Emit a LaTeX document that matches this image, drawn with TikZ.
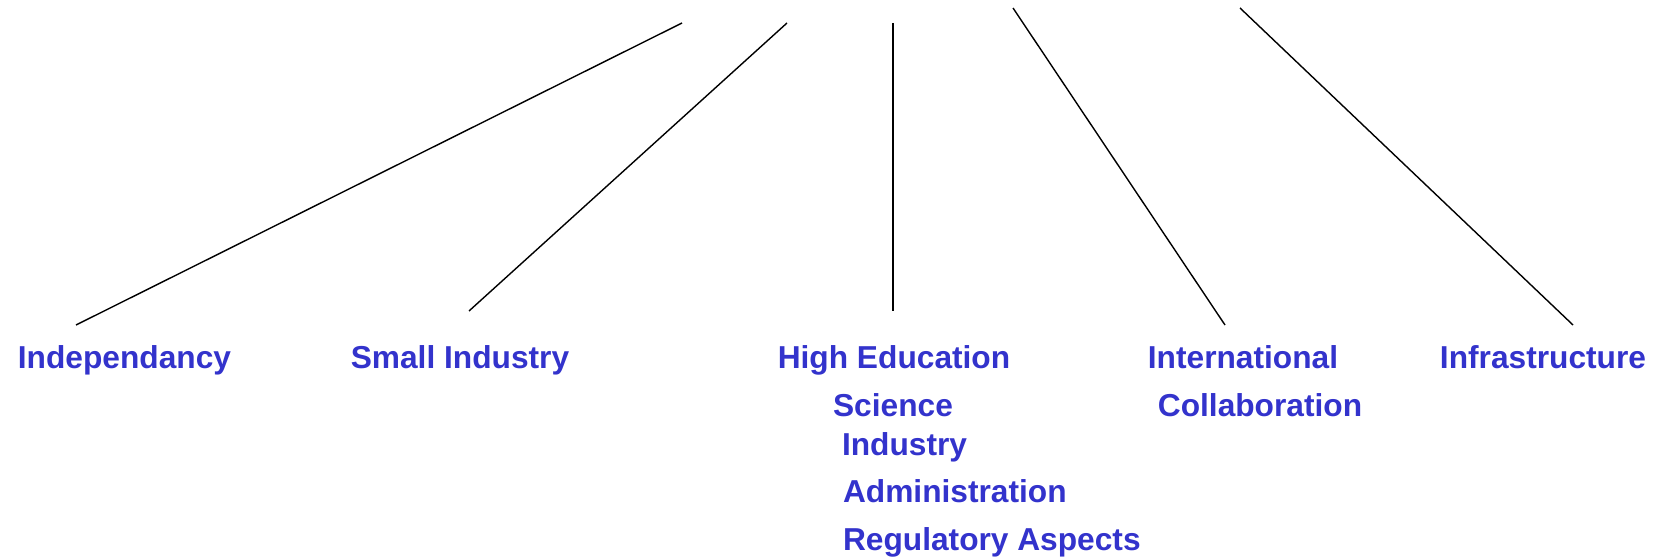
\documentclass[tikz,border=0pt]{standalone}
\usepackage{fontspec}
\setmainfont{Liberation Sans}
\definecolor{lblblue}{RGB}{51,51,204}
\begin{document}
\begin{tikzpicture}[x=1pt,y=-1pt,
  lbl/.style={text=lblblue,font=\fontsize{31.7}{38}\selectfont\bfseries,inner sep=0pt,outer sep=0pt},
  conn/.style={line width=1.4pt,black}]
\useasboundingbox (0,0) rectangle (1655,559);
% connector endpoints
\coordinate (t1) at (682,23);   \coordinate (b1) at (76,325);
\coordinate (t2) at (787,23);   \coordinate (b2) at (469,311);
\coordinate (t3) at (893,23);   \coordinate (b3) at (893,311);
\coordinate (t4) at (1013,8);   \coordinate (b4) at (1225,325);
\coordinate (t5) at (1240,8);   \coordinate (b5) at (1573,325);
\draw[conn] (t1) -- (b1);
\draw[conn] (t2) -- (b2);
\draw[conn] (t3) -- (b3);
\draw[conn] (t4) -- (b4);
\draw[conn] (t5) -- (b5);
% labels
\node[lbl,anchor=base] (indep) at (124.5,368) {Independancy};
\node[lbl,anchor=base] (small) at (460,368) {Small Industry};
\node[lbl,anchor=base] (highed) at (894,368) {High Education};
\node[lbl,anchor=base] (intl) at (1243,368) {International};
\node[lbl,anchor=base] (collab) at (1260,416) {Collaboration};
\node[lbl,anchor=base] (infra) at (1543,368) {Infrastructure};
\node[lbl,anchor=base] (sci) at (893,416) {Science};
\node[lbl,anchor=base west] (ind) at (842,455) {Industry};
\node[lbl,anchor=base west] (admin) at (843,502) {Administration};
\node[lbl,anchor=base west] (reg) at (843,550) {Regulatory Aspects};
\end{tikzpicture}
\end{document}
